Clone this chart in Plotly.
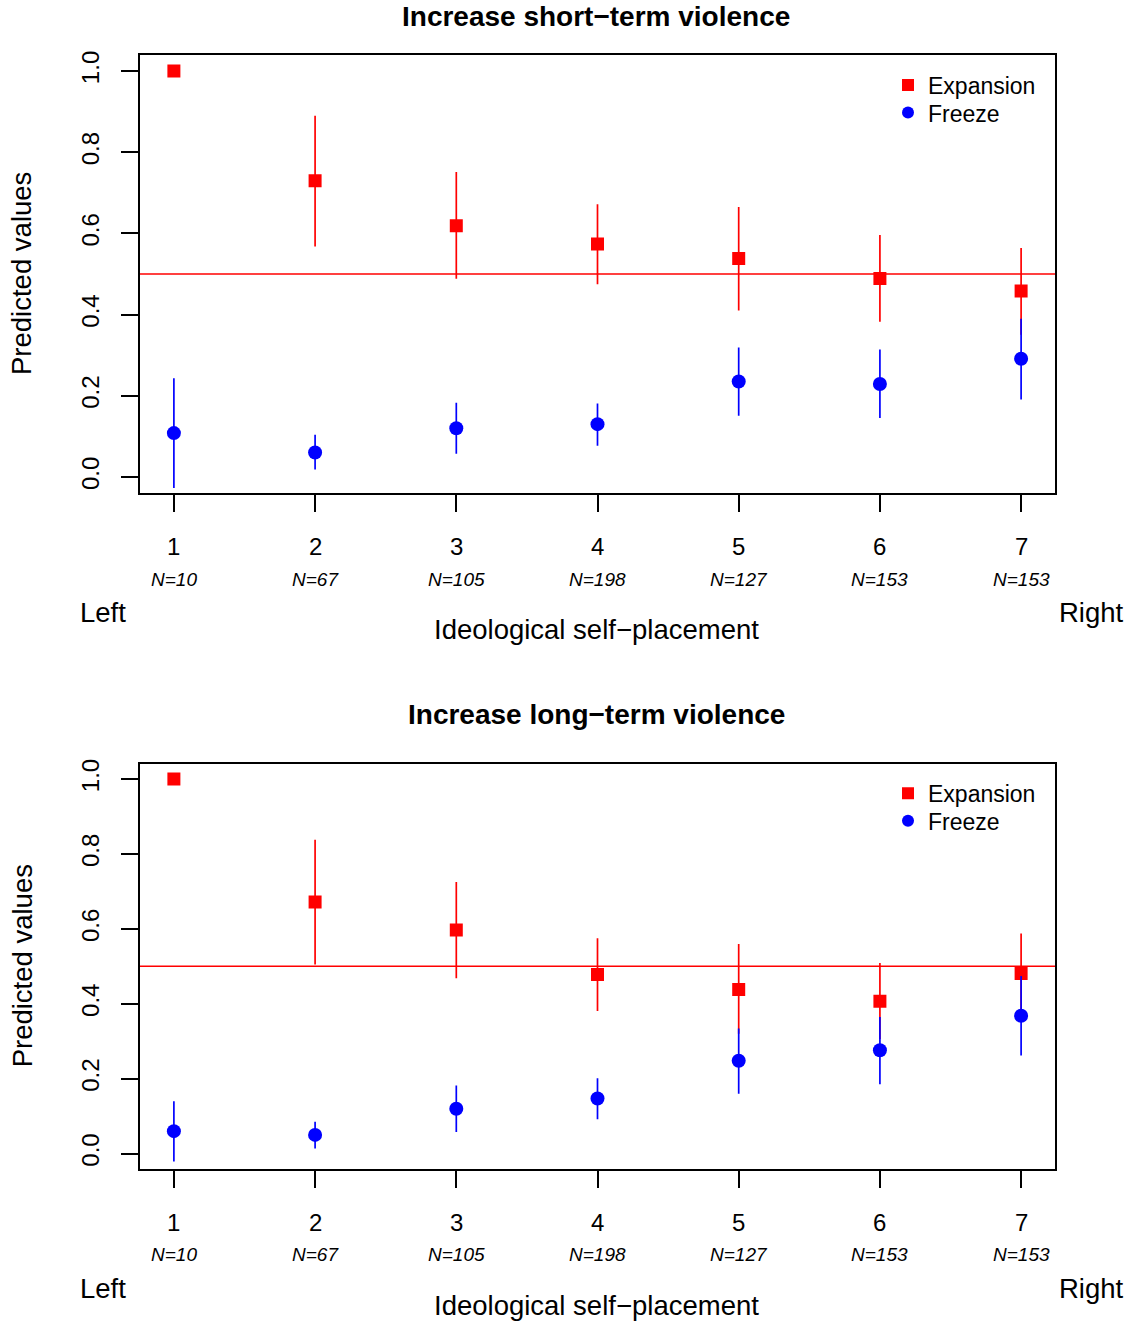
import plotly.graph_objects as go

# ---------------- data ----------------
positions = [1, 2, 3, 4, 5, 6, 7]
n_labels = ["N=10", "N=67", "N=105", "N=198", "N=127", "N=153", "N=153"]
y_ticks = [0.0, 0.2, 0.4, 0.6, 0.8, 1.0]

titles = ["Increase short\u2212term violence", "Increase long\u2212term violence"]
series_names = ["Expansion", "Freeze"]

# Panel 1: short-term violence
exp_st = [1.0, 0.730, 0.619, 0.574, 0.538, 0.489, 0.458]
exp_st_lo = [1.0, 0.568, 0.488, 0.475, 0.410, 0.382, 0.350]
exp_st_hi = [1.0, 0.890, 0.751, 0.672, 0.665, 0.596, 0.564]
frz_st = [0.108, 0.060, 0.120, 0.130, 0.235, 0.229, 0.291]
frz_st_lo = [-0.027, 0.018, 0.057, 0.077, 0.151, 0.145, 0.191]
frz_st_hi = [0.243, 0.104, 0.183, 0.181, 0.319, 0.314, 0.390]

# Panel 2: long-term violence
exp_lt = [1.0, 0.672, 0.597, 0.478, 0.438, 0.407, 0.481]
exp_lt_lo = [1.0, 0.505, 0.468, 0.381, 0.320, 0.306, 0.380]
exp_lt_hi = [1.0, 0.838, 0.725, 0.575, 0.560, 0.509, 0.588]
frz_lt = [0.060, 0.050, 0.120, 0.147, 0.248, 0.276, 0.368]
frz_lt_lo = [-0.021, 0.014, 0.058, 0.092, 0.160, 0.185, 0.262]
frz_lt_hi = [0.140, 0.085, 0.182, 0.201, 0.334, 0.365, 0.474]

ref_value = 0.5

# ---------------- layout geometry ----------------
W, H = 1135, 1328
FONT = "Liberation Sans, Arial, Helvetica, sans-serif"
RED = "#FF0000"
BLUE = "#0000FF"

def px(p):
    return p / W

def py(p):
    return 1 - p / H

BOX_X = (140, 1055)
panels = [
    dict(top=50, bottom=490, title_y=12,
         exp=exp_st, exp_lo=exp_st_lo, exp_hi=exp_st_hi,
         frz=frz_st, frz_lo=frz_st_lo, frz_hi=frz_st_hi,
         leg_y=(80.3, 108.0)),
    dict(top=762, bottom=1168, title_y=712,
         exp=exp_lt, exp_lo=exp_lt_lo, exp_hi=exp_lt_hi,
         frz=frz_lt, frz_lo=frz_lt_lo, frz_hi=frz_lt_hi,
         leg_y=(791.3, 818.8)),
]


def seg(xs, lo, hi):
    sx, sy = [], []
    for x, a, b in zip(xs, lo, hi):
        sx += [x, x, None]
        sy += [a, b, None]
    return sx, sy


fig = go.Figure()
annotations = []
shapes = []
layout_axes = {}
legend_defs = {}
leg_count = 0

for i, p in enumerate(panels):
    k = "" if i == 0 else str(i + 1)
    xa, ya = "x" + k, "y" + k
    # CI segments + markers, red first then blue
    for name, color, symbol, size, vals, lo, hi in [
        (series_names[0], RED, "square", 13, p["exp"], p["exp_lo"], p["exp_hi"]),
        (series_names[1], BLUE, "circle", 14, p["frz"], p["frz_lo"], p["frz_hi"]),
    ]:
        sx, sy = seg(positions, lo, hi)
        fig.add_trace(go.Scatter(x=sx, y=sy, mode="lines", xaxis=xa, yaxis=ya,
                                 line=dict(color=color, width=1.7),
                                 showlegend=False, hoverinfo="skip"))
        leg_count += 1
        lname = "legend" if leg_count == 1 else "legend%d" % leg_count
        fig.add_trace(go.Scatter(x=positions, y=vals, mode="markers", name=name,
                                 xaxis=xa, yaxis=ya, legend=lname,
                                 marker=dict(color=color, symbol=symbol, size=size,
                                             line=dict(width=0))))
        ly = p["leg_y"][0] if name == series_names[0] else p["leg_y"][1]
        legend_defs[lname] = dict(
            x=px(888), y=py(ly), xanchor="left", yanchor="middle",
            bgcolor="rgba(0,0,0,0)", borderwidth=0,
            font=dict(family=FONT, size=23, color="black"),
            itemsizing="constant", tracegroupgap=0,
        )

    layout_axes["xaxis" + k] = dict(
        domain=[px(BOX_X[0]), px(BOX_X[1])], anchor=ya,
        range=[0.76, 7.24], tickvals=positions, showticklabels=False,
        ticks="outside", ticklen=17, tickwidth=1.5, tickcolor="black",
        showline=True, linecolor="black", linewidth=2, mirror=True,
        showgrid=False, zeroline=False, fixedrange=True,
    )
    layout_axes["yaxis" + k] = dict(
        domain=[py(p["bottom"]), py(p["top"])], anchor=xa,
        range=[-0.04, 1.04], tickvals=y_ticks, tickformat=".1f",
        ticks="outside", ticklen=17, tickwidth=1.5, tickcolor="black",
        tickangle=-90, ticklabelstandoff=12,
        tickfont=dict(family=FONT, size=24, color="black"),
        showline=True, linecolor="black", linewidth=2, mirror=True,
        showgrid=False, zeroline=False, fixedrange=True,
    )

    # reference line at 0.5
    shapes.append(dict(type="line", xref=xa + " domain", x0=0, x1=1,
                       yref=ya, y0=ref_value, y1=ref_value,
                       line=dict(color=RED, width=1.5), layer="below"))

    b = p["bottom"]
    # title
    annotations.append(dict(text="<b>%s</b>" % titles[i], xref="paper", yref="paper",
                            x=px(596), y=py(p["title_y"]), xanchor="center", yanchor="middle",
                            showarrow=False, font=dict(family=FONT, size=28, color="black")))
    # tick labels and N labels
    for pos, nl in zip(positions, n_labels):
        annotations.append(dict(text=str(pos), xref=xa, yref="paper", x=pos, y=py(b + 54),
                                xanchor="center", yanchor="middle", showarrow=False,
                                font=dict(family=FONT, size=24, color="black")))
        annotations.append(dict(text="<i>%s</i>" % nl, xref=xa, yref="paper", x=pos, y=py(b + 86.5),
                                xanchor="center", yanchor="middle", showarrow=False,
                                font=dict(family=FONT, size=19, color="black")))
    # Left / Right
    annotations.append(dict(text="Left", xref="paper", yref="paper", x=px(103.3), y=py(b + 120),
                            xanchor="center", yanchor="middle", showarrow=False,
                            font=dict(family=FONT, size=27.5, color="black")))
    annotations.append(dict(text="Right", xref="paper", yref="paper", x=px(1091.5), y=py(b + 120),
                            xanchor="center", yanchor="middle", showarrow=False,
                            font=dict(family=FONT, size=27.5, color="black")))
    # axis titles
    annotations.append(dict(text="Ideological self\u2212placement", xref="paper", yref="paper",
                            x=px(596), y=py(b + 137), xanchor="center", yanchor="middle",
                            showarrow=False, font=dict(family=FONT, size=27.5, color="black")))
    annotations.append(dict(text="Predicted values", xref="paper", yref="paper",
                            x=px(22), y=py((p["top"] + p["bottom"]) / 2), textangle=-90,
                            xanchor="center", yanchor="middle",
                            showarrow=False, font=dict(family=FONT, size=27.5, color="black")))

fig.update_layout(
    width=W, height=H,
    margin=dict(l=0, r=0, t=0, b=0),
    paper_bgcolor="white", plot_bgcolor="white",
    font=dict(family=FONT, color="black"),
    showlegend=True,
    annotations=annotations, shapes=shapes,
    hovermode=False,
    **layout_axes, **legend_defs,
)

fig.write_html(
    "out.html",
    config={"displayModeBar": False},
    post_script="document.documentElement.style.margin='0';document.body.style.margin='0';"
                "document.body.style.overflow='hidden';",
)
